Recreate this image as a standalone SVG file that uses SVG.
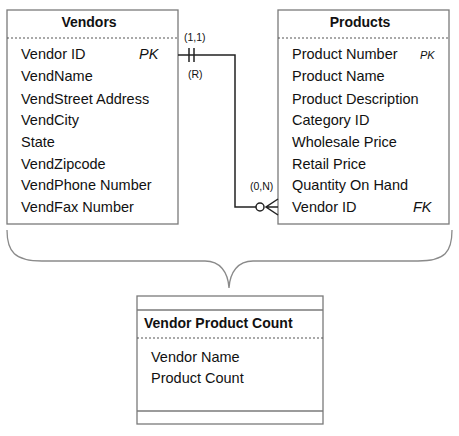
<svg xmlns="http://www.w3.org/2000/svg" width="459" height="436" viewBox="0 0 459 436">
<style>
.box{fill:#fff;stroke:#7a7a7a;stroke-width:1.3}
.sep{stroke:#555;stroke-width:1.2;stroke-dasharray:2,2}
.solid{stroke:#7a7a7a;stroke-width:1.3}
text{font-family:"Liberation Sans",Arial,sans-serif;fill:#111}
.title{font-size:14px;font-weight:bold}
.row{font-size:14.5px}
.key{font-size:14.5px;font-style:italic}
.lab{font-size:10.5px}
.conn{fill:none;stroke:#222;stroke-width:1.5}
.brace{fill:none;stroke:#8a8a8a;stroke-width:1.3}
</style>
<rect width="459" height="436" fill="#fff"/>
<g id="vendors">
<rect class="box" x="7" y="10" width="171" height="214"/>
<line class="sep" x1="7" y1="38" x2="178" y2="38"/>
<text class="title" x="89" y="27" text-anchor="middle">Vendors</text>
<text class="row" x="21" y="59">Vendor ID</text>
<text class="key" x="139" y="59">PK</text>
<text class="row" x="21" y="81">VendName</text>
<text class="row" x="21" y="104">VendStreet Address</text>
<text class="row" x="21" y="125">VendCity</text>
<text class="row" x="21" y="147">State</text>
<text class="row" x="21" y="169">VendZipcode</text>
<text class="row" x="21" y="190">VendPhone Number</text>
<text class="row" x="21" y="212">VendFax Number</text>
</g>
<g id="products">
<rect class="box" x="278" y="10" width="171" height="214"/>
<line class="sep" x1="278" y1="38" x2="449" y2="38"/>
<text class="title" x="360" y="27" text-anchor="middle">Products</text>
<text class="row" x="292" y="59">Product Number</text>
<text class="key" x="420" y="59" style="font-size:11px">PK</text>
<text class="row" x="292" y="81">Product Name</text>
<text class="row" x="292" y="104">Product Description</text>
<text class="row" x="292" y="125">Category ID</text>
<text class="row" x="292" y="147">Wholesale Price</text>
<text class="row" x="292" y="169">Retail Price</text>
<text class="row" x="292" y="190">Quantity On Hand</text>
<text class="row" x="292" y="212">Vendor ID</text>
<text class="key" x="413" y="212">FK</text>
</g>
<g id="vendor-product-count">
<rect class="box" x="137" y="296" width="186" height="128"/>
<line class="solid" x1="137" y1="310" x2="323" y2="310"/>
<line class="sep" x1="137" y1="338" x2="323" y2="338"/>
<line class="solid" x1="137" y1="411" x2="323" y2="411"/>
<text class="title" x="144" y="328">Vendor Product Count</text>
<text class="row" x="151" y="362">Vendor Name</text>
<text class="row" x="151" y="383">Product Count</text>
</g>
<g id="connectors">
<path class="conn" d="M178,55 H235 V207 H256"/>
<line class="conn" x1="189" y1="48" x2="189" y2="62"/>
<line class="conn" x1="194" y1="48" x2="194" y2="62"/>
<circle class="conn" cx="260" cy="207" r="4"/>
<path class="conn" d="M278,199 L266,207 L278,215 M266,207 H278"/>
<text class="lab" x="184" y="41">(1,1)</text>
<text class="lab" x="188" y="78">(R)</text>
<text class="lab" x="250" y="190">(0,N)</text>
<path class="brace" d="M7,230 C7,252 15,261 42,261 L205,261 C220,261 228,272 229,288 C230,272 238,261 253,261 L418,261 C445,261 452,252 452,230"/>
</g>
</svg>
